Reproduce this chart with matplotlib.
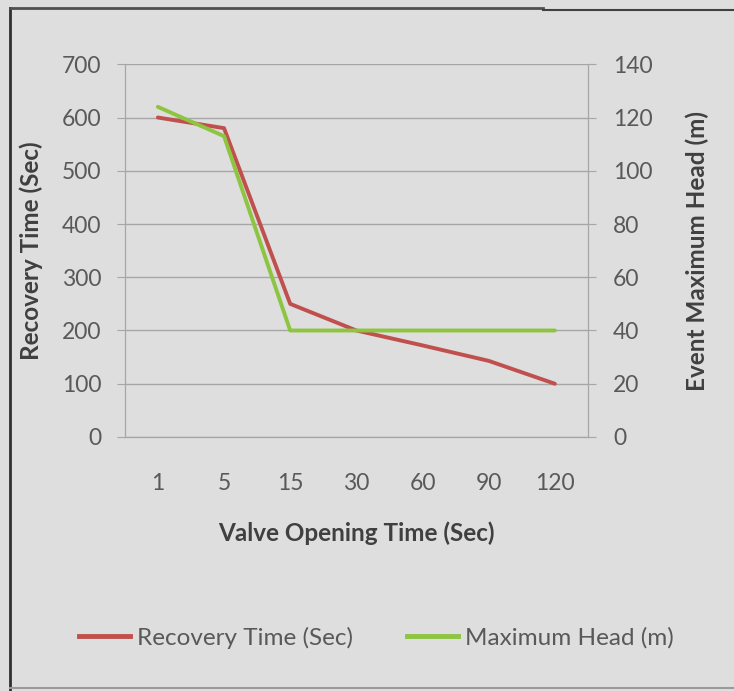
import matplotlib.pyplot as plt
from matplotlib.lines import Line2D

# valve opening time categories and the two measured series
opening_times = ["1", "5", "15", "30", "60", "90", "120"]
recovery_time = [600, 580, 250, 200, 172, 143, 100]
max_head = [124, 113, 40, 40, 40, 40, 40]

red = "#c0504d"
green = "#8dc540"
txt = "#595959"
grid_c = "#a6a6a6"
bg = "#dedede"

plt.rcParams["font.family"] = ["Lato", "DejaVu Sans"]

fig = plt.figure(figsize=(7.34, 6.91), dpi=100, facecolor=bg)
ax = fig.add_axes([0.170, 0.3676, 0.631, 0.5394], facecolor=bg)
ax2 = ax.twinx()

x = range(len(opening_times))
ax.plot(x, recovery_time, color=red, lw=2.8, solid_capstyle="round", zorder=3)
ax2.plot(x, max_head, color=green, lw=2.8, solid_capstyle="round", zorder=3)

ax.set_xlim(-0.5, len(opening_times) - 0.5)
ax.set_ylim(0, 700)
ax.set_yticks(range(0, 701, 100))
ax2.set_ylim(0, 140)
ax2.set_yticks(range(0, 141, 20))
ax.set_xticks(list(x))
ax.set_xticklabels(opening_times)

ax.grid(axis="y", color=grid_c, lw=1)
ax.set_axisbelow(True)
for a in (ax, ax2):
    a.spines["top"].set_visible(False)
    for s in ("left", "right", "bottom"):
        a.spines[s].set_color(grid_c)
    a.tick_params(colors=txt, labelsize=16.5, length=6, color=grid_c)
ax.tick_params(axis="x", length=0, pad=26)
ax.tick_params(axis="y", pad=11)
ax2.tick_params(axis="y", pad=12)

lab = dict(fontsize=17.5, fontweight="bold", color="#404040")
ax.set_ylabel("Recovery Time (Sec)", labelpad=13, **lab)
ax2.set_ylabel("Event Maximum Head (m)", labelpad=24, **lab)
ax.set_xlabel("Valve Opening Time (Sec)", labelpad=20, **lab)

handles = [Line2D([], [], color=red, lw=3.5), Line2D([], [], color=green, lw=3.5)]
fig.legend(handles, ["Recovery Time (Sec)", "Maximum Head (m)"], loc="center",
           bbox_to_anchor=(0.513, 0.077), ncol=2, frameon=False, fontsize=17.5,
           labelcolor=txt, handlelength=2.1, handletextpad=0.3, columnspacing=2.2)

# frame around the chart
fig.add_artist(Line2D([0.014, 0.014], [0.0, 0.988], color="#303030", lw=2, transform=fig.transFigure))
fig.add_artist(Line2D([0.014, 0.74], [0.988, 0.988], color="#505050", lw=2, transform=fig.transFigure))
fig.add_artist(Line2D([0.74, 1.0], [0.985, 0.985], color="#404040", lw=1.5, transform=fig.transFigure))
fig.add_artist(Line2D([0.014, 1.0], [0.004, 0.004], color="#9a9a9a", lw=1.5, transform=fig.transFigure))

fig.savefig("out.png", dpi=100, facecolor=bg)
